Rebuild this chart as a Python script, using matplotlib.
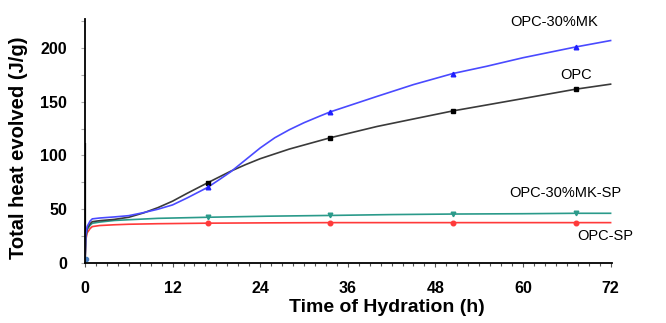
import matplotlib
matplotlib.use("Agg")
import matplotlib.pyplot as plt
from matplotlib.ticker import MultipleLocator
from matplotlib import font_manager

names = {f.name for f in font_manager.fontManager.ttflist}
fam = ['Liberation Sans Narrow', 'Liberation Sans', 'DejaVu Sans'] if 'Liberation Sans Narrow' in names else ['Liberation Sans', 'DejaVu Sans']

# Time (h)
t_opc = [0, 0.1, 0.3, 0.7, 1, 2, 4, 6, 8, 10, 12, 14, 16.8, 20, 22, 24, 28, 33.6, 40, 45, 50.4, 55, 60, 67.2, 72]
opc   = [0, 24, 32, 36.5, 38.4, 39.3, 40.5, 42.5, 46.5, 51.5, 57.5, 64.8, 74.6, 85.5, 91.5, 97, 106, 116.5, 127, 134, 141.5, 147, 153, 161.7, 166.4]

t_mk  = [0, 0.1, 0.3, 0.7, 1, 2, 4, 6, 8, 10, 12, 14, 16.8, 18.5, 20, 22, 24, 26, 28, 30, 32, 33.6, 36, 40, 45, 50.4, 55, 60, 67.2, 72]
mk    = [0, 26, 34, 39, 41, 41.8, 42.8, 44, 46.8, 50, 54, 60.5, 70.3, 78, 85, 96, 107, 116.5, 124, 130.5, 136.2, 140.6, 146, 155, 166, 176.3, 183, 191, 201, 207]

t_mksp = [0, 0.1, 0.3, 0.7, 1, 2, 4, 6, 10, 16.8, 25, 33.6, 42, 50.4, 60, 67.2, 72]
mksp   = [0, 23, 31, 35, 36.9, 38, 39.5, 40.2, 41.5, 42.5, 43.5, 44.2, 45, 45.5, 45.8, 46.2, 46.2]

t_sp = [0, 0.1, 0.3, 0.7, 1, 2, 4, 6, 10, 16.8, 25, 33.6, 42, 50.4, 60, 67.2, 72]
sp   = [0, 21, 28, 32, 33.8, 34.8, 35.5, 36, 36.5, 37, 37.3, 37.5, 37.5, 37.5, 37.5, 37.5, 37.5]

# marker positions
t_mark = [16.8, 33.6, 50.4, 67.2]
opc_m  = [74.6, 116.5, 141.5, 161.7]
mk_m   = [70.3, 140.6, 176.3, 201]
mksp_m = [42.5, 44.2, 45.5, 46.2]
sp_m   = [37, 37.5, 37.5, 37.5]

# initial spike at t=0
spike_t = [0, 0]
spike_y = [0, 112]

labels = ['OPC-30%MK', 'OPC', 'OPC-30%MK-SP', 'OPC-SP']
label_x = [64.2, 67.3, 65.8, 71.2]
label_y = [224, 174.7, 65, 25]

c_opc, c_mk, c_mksp, c_sp = '#3a3a3a', '#4a4aff', '#2a9a8a', '#ff3a3a'

fig = plt.figure(figsize=(6.66, 3.23), dpi=100)
ax = fig.add_axes([0.1276, 0.186, 0.919 - 0.1276, 0.941 - 0.186])

ax.plot(spike_t, spike_y, color='black', lw=1.6, solid_capstyle='butt')
ax.plot(t_sp, sp, color=c_sp, lw=1.2)
ax.plot(t_mksp, mksp, color=c_mksp, lw=1.2)
ax.plot(t_opc, opc, color=c_opc, lw=1.2)
ax.plot(t_mk, mk, color=c_mk, lw=1.2)
ax.plot(t_mark, sp_m, 'o', color=c_sp, ms=3.3, lw=0)
ax.plot(t_mark, mksp_m, 'v', color=c_mksp, ms=3.3, lw=0)
ax.plot(t_mark, opc_m, 's', color='black', ms=3.3, lw=0)
ax.plot(t_mark, mk_m, '^', color='#1f1fff', ms=3.3, lw=0)
ax.plot([0.2], [4], 'o', color='#4a7fbf', ms=3)

for s, x, y in zip(labels, label_x, label_y):
    ax.text(x, y, s, ha='center', va='center', fontsize=10.5, family=fam, clip_on=False)

ax.set_xlim(0, 72.2)
ax.set_ylim(0, 227)
ax.xaxis.set_major_locator(MultipleLocator(12))
ax.xaxis.set_minor_locator(MultipleLocator(1.5))
ax.yaxis.set_major_locator(MultipleLocator(50))
ax.yaxis.set_minor_locator(MultipleLocator(25))

for sp_ in ['top', 'right']:
    ax.spines[sp_].set_visible(False)
for sp_ in ['left', 'bottom']:
    ax.spines[sp_].set_linewidth(1.3)
    ax.spines[sp_].set_color('black')

ax.tick_params(axis='x', which='major', length=3, width=0.8, color='#555555', pad=10)
ax.tick_params(axis='x', which='minor', length=2, width=0.8, color='#555555')
ax.tick_params(axis='y', which='major', length=3, width=0.8, color='#aaaaaa', pad=10)
ax.tick_params(axis='y', which='minor', length=3, width=0.8, color='#aaaaaa')

for lab in ax.get_xticklabels() + ax.get_yticklabels():
    lab.set_fontfamily(fam)
    lab.set_fontsize(11.5)
    lab.set_fontweight('bold')

ax.set_xlabel('Time of Hydration (h)', fontsize=14, fontweight='bold', family=['Liberation Sans', 'DejaVu Sans'])
ax.set_ylabel('Total heat evolved (J/g)', fontsize=14.5, fontweight='bold', family=['Liberation Sans', 'DejaVu Sans'])
ax.xaxis.set_label_coords(0.572, -0.148)
ax.yaxis.set_label_coords(-0.108, 0.473)

fig.savefig('out.png', dpi=100)
